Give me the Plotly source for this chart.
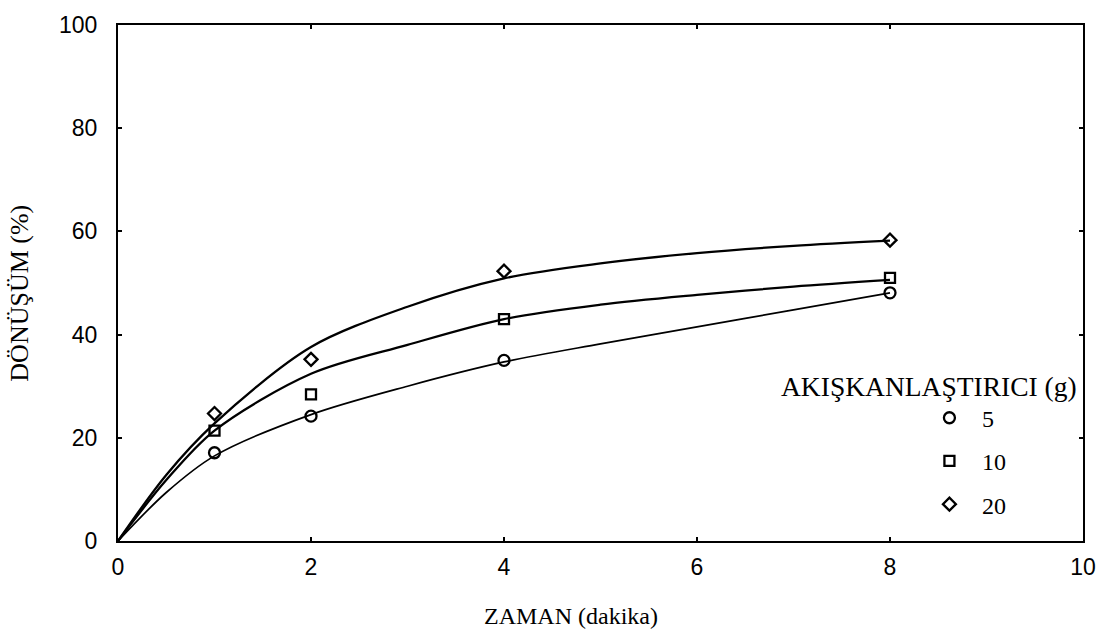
import plotly.graph_objects as go

# measured data points
time_pts = [1, 2, 4, 8]
conv_5 = [17.1, 24.2, 35.0, 48.1]
conv_10 = [21.4, 28.4, 43.0, 51.0]
conv_20 = [24.7, 35.2, 52.3, 58.3]

# fitted curves
curve_t = [0, 0.5, 1, 2, 3, 4, 5, 6, 7, 8]
curve_5 = [0, 9.4, 16.5, 24.5, 30.0, 34.7, 38.2, 41.5, 44.8, 48.1]
curve_10 = [0, 11.8, 21.4, 32.4, 38.0, 43.0, 45.8, 47.7, 49.3, 50.6]
curve_20 = [0, 12.8, 22.8, 37.6, 45.4, 50.9, 53.8, 55.8, 57.2, 58.2]

series_names = ["5", "10", "20"]
symbols = ["circle-open", "square-open", "diamond-open"]
x_ticks = [0, 2, 4, 6, 8, 10]
y_ticks = [0, 20, 40, 60, 80, 100]

fig = go.Figure()

for cy, w in [(curve_5, 1.7), (curve_10, 2.3), (curve_20, 2.3)]:
    fig.add_trace(go.Scatter(x=curve_t, y=cy, mode="lines",
                             line=dict(color="black", width=w, shape="spline", smoothing=0.9),
                             showlegend=False, hoverinfo="skip"))

for name, ys, sym, sz in zip(series_names, [conv_5, conv_10, conv_20], symbols, [11, 10, 10]):
    fig.add_trace(go.Scatter(x=time_pts, y=ys, mode="markers", name=name,
                             legendgroup=name,
                             marker=dict(symbol=sym, size=sz, color="black",
                                         line=dict(color="black", width=2.3))))

axis_common = dict(showline=True, linecolor="black", linewidth=2, mirror="ticks",
                   ticks="inside", ticklen=4, tickwidth=1.5, tickcolor="black",
                   showgrid=False, zeroline=False,
                   tickfont=dict(family="Liberation Sans, Arial", size=23, color="black"))

fig.update_xaxes(range=[0, 10], tickvals=x_ticks, ticklabelstandoff=4, **axis_common)
fig.update_yaxes(range=[0, 100], tickvals=y_ticks, ticklabelstandoff=14, **axis_common)

fig.update_layout(
    width=1111, height=630,
    margin=dict(l=117.5, r=27.7, t=19.3, b=89),
    paper_bgcolor="white", plot_bgcolor="rgba(0,0,0,0)",
    legend=dict(x=0.8279, y=0.2817, xanchor="left", yanchor="top",
                traceorder="grouped", tracegroupgap=9, itemwidth=55,
                font=dict(family="Liberation Serif, Times New Roman", size=24, color="black"),
                bgcolor="rgba(0,0,0,0)"),
    annotations=[
        dict(text="ZAMAN (dakika)", xref="paper", yref="paper", x=0.4696, y=-0.1457,
             showarrow=False, xanchor="center", yanchor="middle",
             font=dict(family="Liberation Serif, Times New Roman", size=24, color="black")),
        dict(text="DÖNÜŞÜM (%)", xref="paper", yref="paper", x=-0.1017, y=0.481,
             showarrow=False, xanchor="center", yanchor="middle", textangle=-90,
             font=dict(family="Liberation Serif, Times New Roman", size=26, color="black")),
        dict(text="AKIŞKANLAŞTIRICI (g)", xref="paper", yref="paper", x=0.685, y=0.299,
             showarrow=False, xanchor="left", yanchor="middle",
             font=dict(family="Liberation Serif, Times New Roman", size=27.5, color="black")),
    ],
)

fig.write_html("out.html")
